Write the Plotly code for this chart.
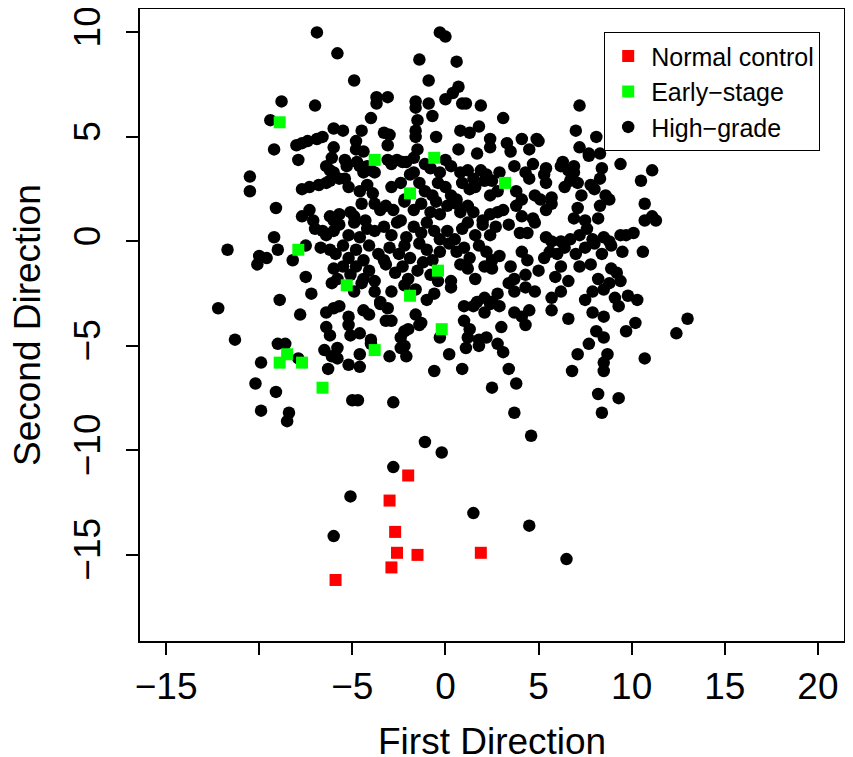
import plotly.graph_objects as go

# ---- data ----
normal_x = [-2.0, -3.0, -2.7, -2.6, -1.5, 1.9, -2.9, -5.9]
normal_y = [-11.2, -12.4, -13.9, -14.9, -15.0, -14.9, -15.6, -16.2]

early_x = [-8.9, -3.8, -0.6, -1.9, 3.2, -7.9, -0.4, -5.3, -1.9, -0.2, -3.8, -8.5, -8.9, -7.7, -6.6]
early_y = [5.7, 3.9, 4.0, 2.3, 2.8, -0.4, -1.4, -2.1, -2.6, -4.2, -5.2, -5.4, -5.8, -5.8, -7.0]

high_pts = [
    (-6.9, 10.0), (-0.3, 10.0), (0.0, 9.8), (-5.8, 9.0), (-1.4, 8.7), (0.6, 8.6), (-4.9, 7.7), (-0.9, 7.7),
    (0.7, 7.4), (0.4, 7.1), (-3.7, 6.9), (-3.1, 6.9), (-3.7, 6.6), (-8.8, 6.7), (-7.0, 6.5), (-1.6, 6.7),
    (-1.6, 6.4), (-0.9, 6.6), (-0.7, 6.0), (0.0, 6.8), (0.9, 6.6), (1.1, 6.6), (1.9, 6.5), (7.2, 6.5),
    (-9.4, 5.8), (-4.0, 5.9), (3.1, 5.9), (-1.5, 5.8), (-1.6, 5.3), (-6.0, 5.4), (-5.5, 5.3), (-4.5, 5.3),
    (-3.3, 5.2), (-3.0, 5.1), (-1.6, 5.0), (-0.5, 5.0), (1.8, 5.5), (0.8, 5.3), (1.3, 5.2), (7.0, 5.3),
    (7.2, 4.5), (8.1, 5.0), (7.7, 4.2), (-7.7, 4.7), (-8.0, 4.6), (-6.6, 5.0), (-6.9, 4.9), (-9.2, 4.4),
    (4.1, 4.9), (5.0, 4.8), (4.9, 4.9), (2.4, 4.9), (2.4, 4.5), (3.3, 4.7), (7.7, 4.1), (8.3, 4.2),
    (-7.9, 3.9), (-5.4, 3.9), (-5.3, 3.6), (-2.6, 3.9), (-2.1, 3.8), (9.4, 3.7), (-10.5, 3.1), (-10.5, 2.4),
    (11.1, 3.4), (10.5, 2.9), (-9.1, 1.6), (-9.2, 0.2), (-9.0, -0.4), (-11.7, -0.4), (-10.1, -1.1),
    (-10.0, -0.7), (-9.6, -0.8), (-8.2, -0.9), (-7.5, -1.7), (-7.2, -2.5), (-8.9, -2.8), (-12.2, -3.2),
    (-7.8, -3.5), (-11.3, -4.7), (-9.0, -4.9), (-8.6, -4.9), (-9.9, -5.8), (-7.9, -5.6), (-10.2, -6.8),
    (-9.1, -7.2), (-9.9, -8.1), (-8.4, -8.2), (-8.5, -8.6), (-5.0, -7.6), (-4.7, -7.6), (-2.8, -7.7),
    (-6.3, -6.1), (-5.8, -5.6), (-5.2, -5.9), (-4.6, -6.0), (-3.0, -5.5), (-2.1, -5.5), (0.2, -5.4),
    (-0.6, -6.2), (0.9, -6.1), (2.5, -7.0), (3.4, -6.1), (3.8, -6.8), (3.7, -8.2), (4.6, -9.3),
    (-1.1, -9.6), (-0.2, -10.1), (-2.8, -10.8), (-5.1, -12.2), (1.5, -13.0), (4.5, -13.6), (-6.0, -14.1),
    (6.5, -15.2), (6.8, -6.2), (7.1, -5.4), (7.7, -4.9), (8.1, -4.3), (6.6, -3.7), (8.5, -5.8), (8.7, -5.4),
    (8.5, -6.2), (8.2, -7.3), (8.4, -8.2), (9.3, -7.5), (9.7, -4.3), (10.7, -5.6), (10.2, -3.9), (12.4, -4.4),
    (13.0, -3.7), (10.3, -2.8), (9.8, -2.6), (9.1, -2.7), (9.3, -3.1), (10.6, -0.5), (11.3, 1.0), (11.1, 1.2),
    (10.7, 1.0), (10.7, 1.8), (9.7, 0.3), (10.1, 0.4), (9.4, 0.3), (9.5, -0.5),
    # upper core extras
    (1.7, 4.2), (0.7, 4.4), (-1.5, 4.4), (-1.7, 4.0), (-3.1, 4.6), (4.5, 4.4), (4.7, 3.7),
    (-7.4, 4.8), (-6.0, 4.5), (-6.1, 4.0), (-4.8, 4.8), (-4.8, 4.4), (-4.4, 4.3), (-4.75, 3.8), (-4.2, 3.6),
    (6.9, 3.6), (5.4, 3.5),
    # band 4..3
    (-6.4, 3.6), (-6.2, 3.4), (-6.0, 3.3), (-5.7, 3.0), (-5.4, 3.0), (-4.6, 3.6), (-4.4, 3.3), (-4.0, 3.4),
    (-3.8, 3.3), (-3.1, 3.9), (-2.9, 3.7), (-2.3, 3.8), (-1.9, 3.2), (-1.7, 3.3), (-1.1, 3.7), (-0.8, 3.5),
    (-0.3, 3.3), (0.0, 3.9), (0.3, 3.6), (0.8, 3.3), (1.2, 3.4), (1.5, 3.0), (1.9, 3.4), (2.2, 3.2),
    (2.5, 2.9), (2.9, 3.3), (3.5, 4.3), (3.7, 3.6), (4.3, 3.3), (4.5, 3.0), (5.3, 3.2), (5.4, 2.8),
    (6.2, 3.6), (6.3, 3.8), (6.6, 3.4), (6.9, 3.3), (7.1, 2.8), (8.0, 2.5), (8.3, 3.0), (8.4, 3.5),
    # band 3..2
    (-7.7, 2.5), (-7.3, 2.6), (-6.8, 2.7), (-6.4, 2.8), (-6.2, 2.9), (-5.2, 2.6), (-4.6, 2.4), (-4.2, 2.7),
    (-3.9, 2.3), (-2.9, 2.6), (-2.4, 2.8), (-2.2, 2.0), (-1.4, 2.8), (-1.1, 2.4), (-0.7, 2.2), (-0.4, 2.8),
    (0.0, 2.6), (0.3, 2.2), (0.6, 2.0), (0.9, 2.8), (1.3, 2.5), (1.6, 2.6), (2.1, 2.9), (2.4, 2.2),
    (2.8, 2.4), (3.8, 2.4), (4.1, 2.0), (4.8, 2.2), (5.1, 2.0), (5.7, 2.1), (6.4, 2.6), (6.7, 2.9),
    (7.3, 2.2), (7.8, 2.7), (8.6, 2.2), (8.8, 2.0),
    # band 2..1
    (-7.7, 1.2), (-7.3, 1.5), (-7.1, 1.0), (-6.2, 1.2), (-6.0, 1.0), (-5.7, 1.3), (-5.1, 1.4), (-4.9, 1.2),
    (-4.5, 1.8), (-4.3, 1.0), (-3.8, 1.8), (-3.5, 1.5), (-3.2, 1.7), (-2.8, 1.5), (-2.4, 1.0), (-2.2, 1.9),
    (-1.7, 1.5), (-1.3, 1.8), (-0.8, 1.4), (-0.5, 1.9), (-0.3, 1.3), (0.1, 1.7), (0.6, 1.8), (0.8, 1.4),
    (1.2, 1.7), (1.5, 1.4), (2.0, 1.0), (2.4, 1.3), (2.8, 1.4), (3.1, 1.5), (3.8, 1.7), (4.1, 1.2),
    (4.7, 1.1), (5.4, 1.5), (5.7, 1.8), (6.9, 1.1), (7.1, 1.6), (7.5, 1.0), (8.2, 1.1), (8.3, 1.7),
    # band 1..0
    (-7.0, 0.6), (-6.6, 0.5), (-6.4, 0.3), (-6.0, 0.5), (-5.7, 0.8), (-5.2, 0.3), (-4.9, 0.9), (-4.6, 0.2),
    (-4.2, 0.6), (-3.8, 0.5), (-3.3, 0.7), (-2.9, 0.3), (-2.6, 0.9), (-2.1, 0.2), (-1.7, 0.7), (-1.3, 0.4),
    (-1.0, 0.9), (-0.6, 0.5), (-0.3, 0.1), (0.1, 0.5), (0.5, 0.1), (0.9, 0.6), (1.2, 0.9), (1.6, 0.3),
    (2.0, 0.8), (2.4, 0.3), (2.7, 0.7), (3.4, 0.8), (4.0, 0.4), (4.4, 0.4), (4.8, 0.9), (5.4, 0.2),
    (5.7, 0.0), (6.2, 0.0), (6.7, 0.1), (7.2, 0.3), (7.6, 0.6), (7.9, 0.1), (8.5, 0.2), (8.8, 0.0),
    # band 0..-1
    (-7.5, -0.2), (-6.7, -0.3), (-6.2, -0.4), (-5.9, -0.6), (-5.5, -0.2), (-5.2, -0.8), (-4.8, -0.4),
    (-4.4, -0.9), (-4.1, -0.2), (-3.6, -0.6), (-3.3, -0.9), (-3.0, -0.3), (-2.5, -0.6), (-2.2, -0.2),
    (-1.9, -0.8), (-1.4, -0.1), (-1.0, -0.4), (-0.7, -0.9), (-0.3, -0.5), (0.2, -0.1), (0.6, -0.5),
    (1.0, -0.3), (1.3, -0.8), (1.8, -0.2), (2.2, -0.5), (2.5, -0.9), (2.9, -0.7), (4.1, -0.5), (4.4, -0.9),
    (5.3, -0.8), (5.6, -0.5), (6.0, -0.6), (6.4, -0.3), (7.0, -0.6), (7.5, -0.3), (8.0, -0.1), (8.4, -0.6),
    (8.9, -0.2),
    # band -1..-2
    (-6.0, -1.3), (-5.8, -1.8), (-5.5, -1.2), (-5.1, -1.6), (-4.8, -1.2), (-4.4, -1.8), (-4.1, -1.4),
    (-3.8, -1.9), (-3.2, -1.1), (-2.7, -1.5), (-2.3, -1.2), (-2.0, -1.8), (-1.5, -1.4), (-1.2, -1.0),
    (-0.8, -1.6), (-0.4, -1.9), (0.3, -1.9), (0.8, -1.1), (1.2, -1.3), (1.6, -1.8), (2.1, -1.2), (2.5, -1.3),
    (3.5, -1.2), (3.7, -1.8), (4.3, -1.6), (5.0, -1.4), (5.9, -1.7), (6.2, -1.2), (6.6, -1.9), (7.2, -1.2),
    (7.8, -1.1), (8.2, -1.8), (8.9, -1.3), (9.2, -1.5), (9.4, -1.9),
    # band -2..-3
    (-6.1, -2.0), (-4.9, -2.4), (-4.5, -2.0), (-3.8, -2.4), (-3.5, -2.9), (-2.9, -2.4), (-2.2, -2.1),
    (-1.6, -2.3), (-1.0, -2.8), (-0.6, -2.5), (0.3, -2.2), (1.7, -2.9), (2.1, -2.7), (2.5, -2.9), (2.8, -2.5),
    (3.4, -2.0), (3.7, -2.4), (4.3, -2.2), (4.8, -2.4), (5.7, -2.7), (6.2, -2.4), (7.5, -2.8), (7.9, -2.4),
    (8.5, -2.3), (8.8, -2.0),
    # band -3..-4
    (-6.4, -3.4), (-6.0, -3.2), (-5.7, -3.1), (-5.2, -3.6), (-4.4, -3.3), (-4.1, -3.5), (-3.5, -3.0),
    (-3.1, -3.2), (-3.2, -3.8), (-2.9, -3.8), (-1.6, -3.5), (-1.3, -3.9), (1.0, -3.1), (1.5, -3.1),
    (2.1, -3.4), (2.4, -3.0), (2.9, -3.1), (3.7, -3.4), (4.1, -3.6), (4.5, -3.3), (5.7, -3.3), (7.9, -3.4),
    (8.5, -3.6),
    # band -4..-5
    (-6.4, -4.1), (-6.2, -4.5), (-5.2, -4.0), (-5.1, -4.5), (-4.6, -4.4), (-4.0, -4.9), (-2.2, -4.3),
    (-2.4, -4.6), (-2.0, -4.2), (-0.3, -4.6), (1.0, -3.8), (1.3, -4.2), (1.2, -4.6), (1.8, -4.7), (2.2, -4.6),
    (2.8, -4.9), (3.0, -4.1), (4.3, -4.0), (8.5, -4.6), (-4.0, -4.7), (-1.4, -4.0),
    # band -5..-6
    (-5.8, -5.1), (-4.6, -5.4), (-2.4, -5.1), (-2.2, -5.0), (1.1, -5.1), (1.8, -5.0), (3.1, -5.3),
    (-6.5, -5.2), (-6.1, -5.5),
]
high_x = [p[0] for p in high_pts]
high_y = [p[1] for p in high_pts]

x_ticks = [-15, -10, -5, 0, 5, 10, 15, 20]
x_ticktext = ["\u221215", "", "\u22125", "0", "5", "10", "15", "20"]
y_ticks = [-15, -10, -5, 0, 5, 10]
y_ticktext = ["\u221215", "\u221210", "\u22125", "0", "5", "10"]

x_title = "First Direction"
y_title = "Second Direction"

FONT = "Liberation Sans, Arial, Helvetica, sans-serif"

fig = go.Figure()
fig.add_trace(go.Scatter(x=high_x, y=high_y, mode="markers", name="High\u2212grade",
                         marker=dict(symbol="circle", size=12.5, color="black", line=dict(width=0))))
fig.add_trace(go.Scatter(x=early_x, y=early_y, mode="markers", name="Early\u2212stage",
                         marker=dict(symbol="square", size=12, color="#00FF00", line=dict(width=0))))
fig.add_trace(go.Scatter(x=normal_x, y=normal_y, mode="markers", name="Normal control",
                         marker=dict(symbol="square", size=12, color="#FF0000", line=dict(width=0))))

axis_common = dict(showline=True, linecolor="black", linewidth=1.5, mirror=True,
                   ticks="outside", ticklen=12, tickwidth=1.5, tickcolor="black",
                   showgrid=False, zeroline=False, automargin=False, ticklabeloverflow="allow",
                   tickfont=dict(family=FONT, size=37, color="black"))

# figure is drawn 8px in from the page corner (page body margin), so size it 8px smaller
W, H = 845, 749
L, R, T, B = 132, 9, 1, 116
plot_w = W - L - R
plot_h = H - T - B

fig.update_layout(
    width=W, height=H,
    margin=dict(l=L, r=R, t=T, b=B, autoexpand=False),
    paper_bgcolor="white", plot_bgcolor="white",
    font=dict(family=FONT, color="black"),
    showlegend=True,
    legend=dict(x=(596 - L) / plot_w, y=(H - B - 24) / plot_h, xanchor="left", yanchor="top",
                bordercolor="black", borderwidth=1.2, bgcolor="white",
                traceorder="reversed", font=dict(family=FONT, size=25, color="black"),
                itemwidth=36),
    xaxis=dict(range=[-16.4, 21.4], tickvals=x_ticks, ticktext=x_ticktext,
               ticklabelstandoff=0, **axis_common),
    yaxis=dict(range=[-19.12, 11.12], tickvals=y_ticks, ticktext=y_ticktext, tickangle=-90,
               ticklabelstandoff=11, **axis_common),
    annotations=[
        dict(text=x_title, xref="paper", yref="paper", x=0.5, y=-(733 - (H - B)) / plot_h,
             xanchor="center", yanchor="middle", showarrow=False,
             font=dict(family=FONT, size=37, color="black")),
        dict(text=y_title, xref="paper", yref="paper", x=-(L - 19) / plot_w, y=0.5,
             xanchor="center", yanchor="middle", textangle=-90, showarrow=False,
             font=dict(family=FONT, size=37, color="black")),
    ],
)

fig.write_html("out.html")
